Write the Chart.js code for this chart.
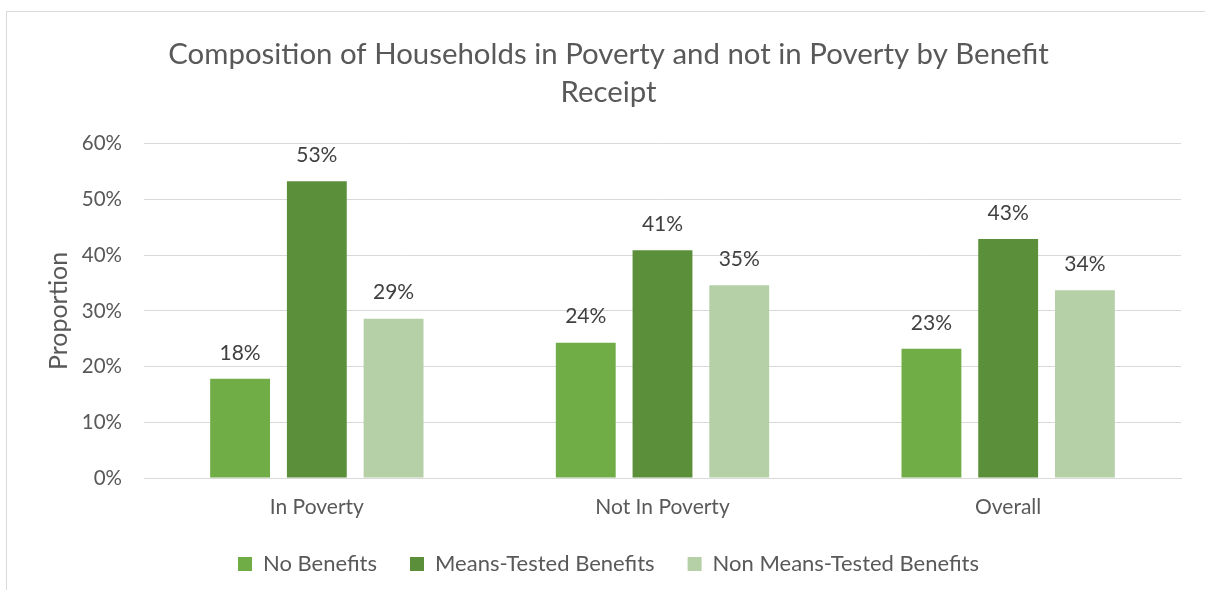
<!DOCTYPE html>
<html>
<head>
<meta charset="utf-8">
<script src="https://cdn.jsdelivr.net/npm/chart.js@4"></script>
<style>
  html, body { margin: 0; padding: 0; background: #fff; overflow: hidden; }
  #wrap { position: relative; width: 1205px; height: 590px; }
  #frame { position: absolute; left: 6px; top: 11px; width: 1400px; height: 800px; border: 1px solid #D9D9D9; }
  canvas { position: absolute; left: 0; top: 0; }
</style>
</head>
<body>
<div id="wrap">
  <div id="frame"></div>
  <canvas id="chart" width="1205" height="590"></canvas>
</div>
<script>
const CATEGORIES = ["In Poverty", "Not In Poverty", "Overall"];
const NO_BENEFITS = [0.178, 0.243, 0.232];
const MEANS_TESTED = [0.533, 0.409, 0.429];
const NON_MEANS_TESTED = [0.286, 0.346, 0.337];
const Y_TICKS = [0, 0.1, 0.2, 0.3, 0.4, 0.5, 0.6];

const FONT = "Lato, 'Open Sans', sans-serif";

// draw the percent labels above each bar
const barLabels = {
  id: "barLabels",
  afterDatasetsDraw(chart) {
    const ctx = chart.ctx;
    ctx.save();
    ctx.font = "21px " + FONT;
    ctx.fillStyle = "#404040";
    ctx.textAlign = "center";
    ctx.textBaseline = "middle";
    chart.data.datasets.forEach((ds, i) => {
      chart.getDatasetMeta(i).data.forEach((bar, j) => {
        ctx.fillText(Math.round(ds.data[j] * 100) + "%", bar.x, bar.y - 26);
      });
    });
    ctx.restore();
  },
};

new Chart("chart", {
  type: "bar",
  data: {
    labels: CATEGORIES,
    datasets: [
      { label: "No Benefits", data: NO_BENEFITS, backgroundColor: "#70AD47" },
      { label: "Means-Tested Benefits", data: MEANS_TESTED, backgroundColor: "#5B8F3A" },
      { label: "Non Means-Tested Benefits", data: NON_MEANS_TESTED, backgroundColor: "#B5CFA7" },
    ],
  },
  options: {
    responsive: false,
    animation: false,
    categoryPercentage: 0.666,
    barPercentage: 0.78,
    layout: { padding: { left: 36, right: 24, top: 0, bottom: 5 } },
    plugins: {
      title: {
        display: true,
        text: ["Composition of Households in Poverty and not in Poverty by Benefit", "Receipt"],
        color: "#595959",
        font: { family: FONT, size: 29.4, weight: "normal", lineHeight: 1.29 },
        padding: { top: 36, bottom: 32 },
      },
      legend: {
        position: "bottom",
        labels: {
          color: "#595959",
          font: { family: FONT, size: 22 },
          boxWidth: 14,
          boxHeight: 14,
          padding: 33,
        },
      },
      tooltip: { enabled: false },
    },
    scales: {
      x: {
        grid: { display: false, drawTicks: false },
        border: { color: "#D9D9D9", width: 1 },
        ticks: { color: "#595959", font: { family: FONT, size: 21 }, padding: 17 },
        afterFit(scale) { scale.height = 42; },
      },
      y: {
        min: 0,
        max: 0.6,
        afterBuildTicks(scale) { scale.ticks = Y_TICKS.map((v) => ({ value: v })); },
        grid: { color: "#D9D9D9", drawTicks: false },
        border: { display: false },
        ticks: {
          color: "#595959",
          font: { family: FONT, size: 20.5 },
          padding: 22,
          callback: (v) => Math.round(v * 100) + "%",
        },
        title: {
          display: true,
          text: "Proportion",
          color: "#595959",
          font: { family: FONT, size: 25 },
          padding: { top: 8, bottom: 10 },
        },
        afterFit(scale) { scale.width = 108; },
      },
    },
  },
  plugins: [barLabels],
});
</script>
</body>
</html>
